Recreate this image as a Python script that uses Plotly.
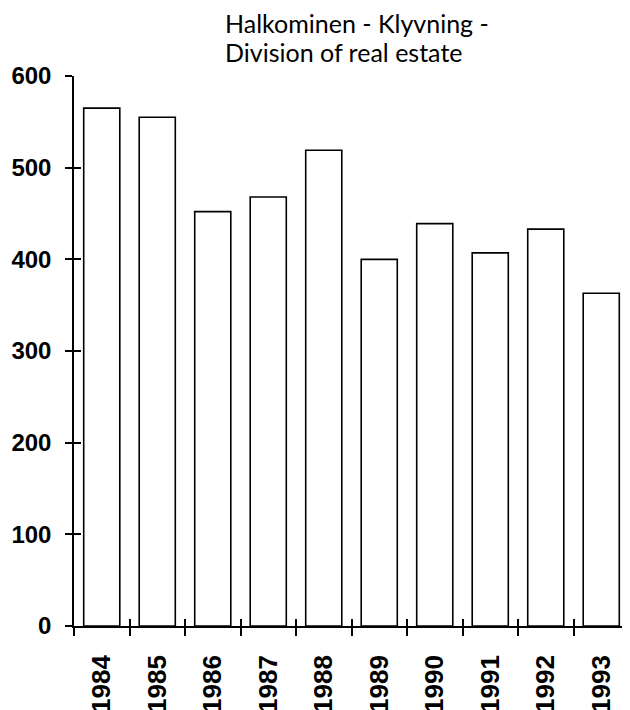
import plotly.graph_objects as go

years = ["1984", "1985", "1986", "1987", "1988", "1989", "1990", "1991", "1992", "1993"]
values = [565, 555, 452, 468, 519, 400, 439, 407, 433, 363]
y_ticks = [0, 100, 200, 300, 400, 500, 600]
title_lines = ["Halkominen - Klyvning -", "Division of real estate"]

fig = go.Figure()
fig.add_trace(go.Bar(
    x=years, y=values,
    marker=dict(color="white", line=dict(color="black", width=1.6)),
    showlegend=False, xaxis="x", yaxis="y",
))
# helper trace (invisible) so the overlay axes carrying the inner half of the crossing ticks are drawn
fig.add_trace(go.Scatter(
    x=[0], y=[0], xaxis="x2", yaxis="y2", mode="markers",
    marker=dict(opacity=0), hoverinfo="skip", showlegend=False,
))

y_tick_font = dict(family="Liberation Sans", size=24, color="black", weight="bold")
x_tick_font = dict(family="Liberation Sans", size=26, color="black", weight="bold")

for line, shift in zip(title_lines, [36, 7]):
    fig.add_annotation(
        text=line, xref="paper", yref="paper", x=0.2685, y=1,
        xanchor="left", yanchor="bottom", yshift=shift, showarrow=False, align="left",
        font=dict(family="Lato", size=25, color="black"),
    )

fig.update_layout(
    width=622, height=702,
    margin=dict(l=66, r=1, t=68, b=84),
    paper_bgcolor="white", plot_bgcolor="white",
    bargap=0.35,
    xaxis=dict(type="category", tickson="boundaries", ticks="outside", ticklen=8,
               tickwidth=1.5, tickcolor="black", showline=True, linecolor="black",
               linewidth=1.5, showgrid=False, zeroline=False, tickangle=-90,
               tickfont=x_tick_font, ticklabelstandoff=17, automargin=False),
    yaxis=dict(range=[0, 600], tickvals=y_ticks, ticks="outside", ticklen=7,
               tickwidth=1.5, tickcolor="black", showline=True, linecolor="black",
               linewidth=1.5, showgrid=False, zeroline=False, tickfont=y_tick_font,
               ticklabelstandoff=9, automargin=False),
    xaxis2=dict(overlaying="x", anchor="y", range=[-0.5, len(years) - 0.5], tick0=-0.5, dtick=1,
                ticks="inside", ticklen=7, tickwidth=1.5, tickcolor="black",
                showticklabels=False, showline=False, showgrid=False, zeroline=False),
    yaxis2=dict(overlaying="y", anchor="x", range=[0, 600], tickvals=y_ticks,
                ticks="inside", ticklen=7, tickwidth=1.5, tickcolor="black",
                showticklabels=False, showline=False, showgrid=False, zeroline=False),
)

fig.write_html("out.html")
